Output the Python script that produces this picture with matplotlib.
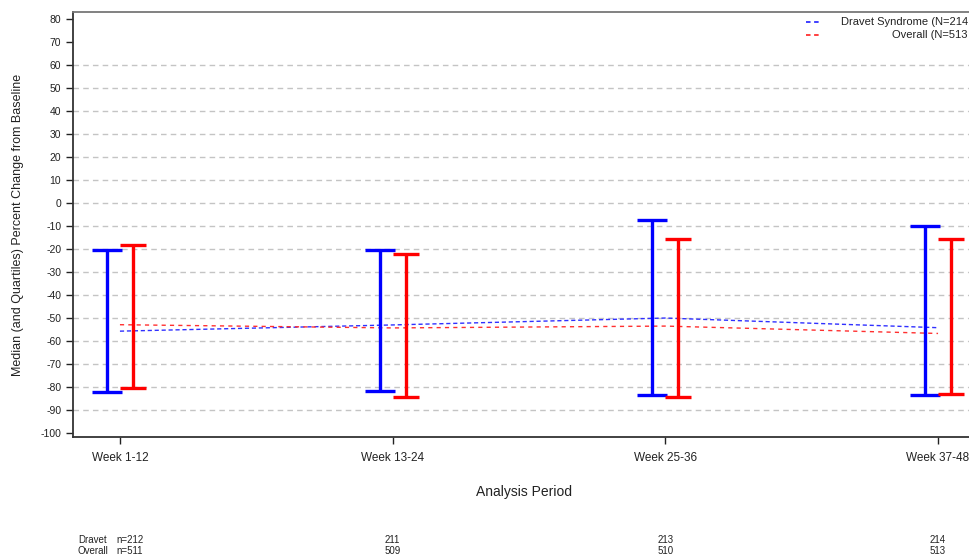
import matplotlib
matplotlib.use("Agg")
import matplotlib.pyplot as plt
import numpy as np

# Data
periods = ["Week 1-12", "Week 13-24", "Week 25-36", "Week 37-48"]

dravet_median = [-55.7, -53.0, -50.0, -54.2]
dravet_q1 = [-82.3, -81.7, -83.5, -83.5]
dravet_q3 = [-20.4, -20.4, -7.6, -10.0]

overall_median = [-52.9, -54.3, -53.5, -56.7]
overall_q1 = [-80.3, -84.3, -84.2, -82.8]
overall_q3 = [-18.3, -22.2, -15.7, -15.5]

dravet_n = ["n=212", "211", "213", "214"]
overall_n = ["n=511", "509", "510", "513"]

plt.rcParams['font.family'] = ['Liberation Sans', 'DejaVu Sans']
plt.rcParams['axes.unicode_minus'] = False

fig = plt.figure(figsize=(9.7, 5.6), dpi=100)
ax = fig.add_axes([73 / 970, 1 - 437 / 560, (975 - 73) / 970, (437 - 12) / 560])

x = np.arange(len(periods))
off = 13 / 273

#Grid lines (dashed, only -90 to 60)
for v in range(-90, 61, 10):
    ax.axhline(v, color='#c4c4c4', linestyle=(0, (4, 3)), linewidth=1, zorder=0)

#Median lines
ax.plot(x, dravet_median, color='#3030ff', linestyle=(0, (3, 2)), linewidth=1.0, zorder=2)
ax.plot(x, overall_median, color='#ff3030', linestyle=(0, (3, 3)), linewidth=1.0, zorder=2)

#Quartile bars
d_lo = np.array(dravet_median) - np.array(dravet_q1)
d_hi = np.array(dravet_q3) - np.array(dravet_median)
o_lo = np.array(overall_median) - np.array(overall_q1)
o_hi = np.array(overall_q3) - np.array(overall_median)
ax.errorbar(x - off, dravet_median, yerr=[d_lo, d_hi], fmt='none', ecolor='#0000ff',
            elinewidth=2.4, capsize=10.5, capthick=2.4, zorder=3)
ax.errorbar(x + off, overall_median, yerr=[o_lo, o_hi], fmt='none', ecolor='#ff0000',
            elinewidth=2.4, capsize=9.5, capthick=2.4, zorder=3)

ax.set_xlim(-47 / 273, 3 + 37 / 273)
ax.set_ylim(-101.7, 83)
ax.set_yticks(range(-100, 81, 10))
ax.set_xticks(x)
ax.set_xticklabels(periods)
ax.tick_params(axis='both', labelsize=7.5, colors='#222222', length=5, width=1)
ax.tick_params(axis='x', labelsize=8.5, pad=6)

for s in ['left', 'bottom']:
    ax.spines[s].set_linewidth(1.3)
    ax.spines[s].set_color('#333333')
ax.spines['top'].set_color('#777777')
ax.spines['top'].set_linewidth(1.3)
ax.spines['right'].set_visible(False)

ax.set_xlabel('Analysis Period', fontsize=10, color='#222222', labelpad=15)
ax.set_ylabel('Median (and Quartiles) Percent Change from Baseline', fontsize=9,
              color='#222222', labelpad=12)

#Legend drawn by hand (right aligned, cut at the edge like the reference)
fig.lines.append(plt.Line2D([806 / 970, 819 / 970], [1 - 22 / 560, 1 - 22 / 560],
                            color='#3030ff', linestyle=(0, (2.5, 2)), linewidth=1.3,
                            transform=fig.transFigure))
fig.lines.append(plt.Line2D([806 / 970, 819 / 970], [1 - 35 / 560, 1 - 35 / 560],
                            color='#ff3030', linestyle=(0, (2.5, 2)), linewidth=1.3,
                            transform=fig.transFigure))
fig.text(968 / 970, 1 - 22 / 560, 'Dravet Syndrome (N=214', ha='right', va='center',
         fontsize=8, color='#222222')
fig.text(968 / 970, 1 - 35 / 560, 'Overall (N=513', ha='right', va='center',
         fontsize=8, color='#222222')

#Counts table under the chart
fig.text(78 / 970, 1 - 540 / 560, 'Dravet', ha='left', va='center', fontsize=7, color='#222222')
fig.text(78 / 970, 1 - 551 / 560, 'Overall', ha='left', va='center', fontsize=7, color='#222222')
for i in range(len(periods)):
    if i == 0:
        fig.text(116 / 970, 1 - 540 / 560, dravet_n[i], ha='left', va='center', fontsize=7, color='#222222')
        fig.text(116 / 970, 1 - 551 / 560, overall_n[i], ha='left', va='center', fontsize=7, color='#222222')
        continue
    xp = ax.transData.transform((x[i], 0))[0] / fig.dpi / fig.get_figwidth()
    fig.text(xp, 1 - 540 / 560, dravet_n[i], ha='center', va='center', fontsize=7, color='#222222')
    fig.text(xp, 1 - 551 / 560, overall_n[i], ha='center', va='center', fontsize=7, color='#222222')

fig.savefig('out.png', dpi=100)
